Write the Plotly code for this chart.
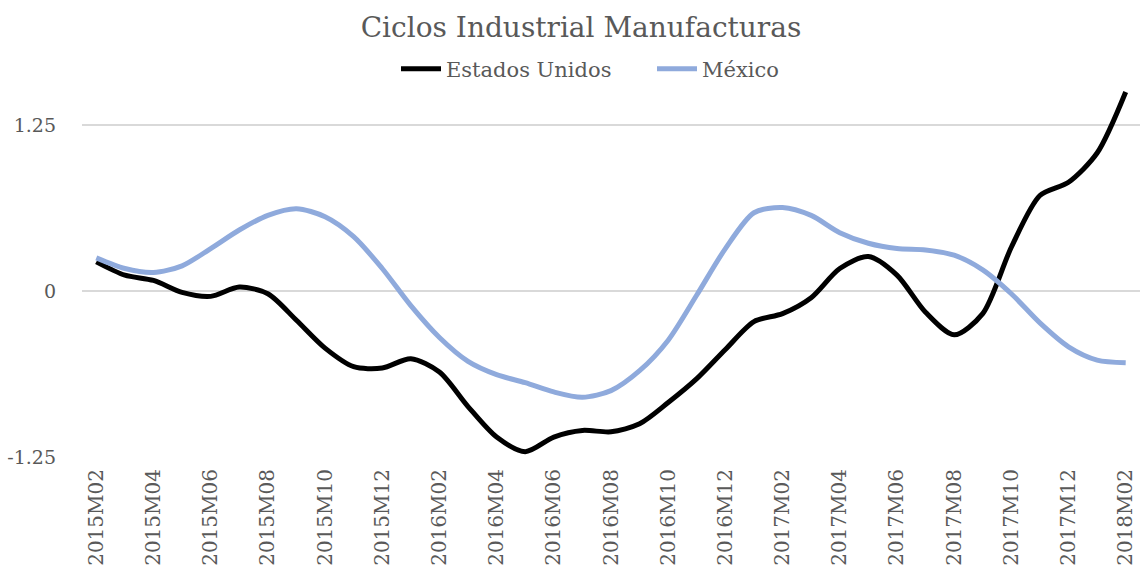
import plotly.graph_objects as go

months = [
    "2015M02", "2015M03", "2015M04", "2015M05", "2015M06", "2015M07", "2015M08",
    "2015M09", "2015M10", "2015M11", "2015M12", "2016M01", "2016M02", "2016M03",
    "2016M04", "2016M05", "2016M06", "2016M07", "2016M08", "2016M09", "2016M10",
    "2016M11", "2016M12", "2017M01", "2017M02", "2017M03", "2017M04", "2017M05",
    "2017M06", "2017M07", "2017M08", "2017M09", "2017M10", "2017M11", "2017M12",
    "2018M01", "2018M02",
]

estados_unidos = [
    0.22, 0.12, 0.08, -0.01, -0.04, 0.03, -0.02, -0.22, -0.43, -0.57, -0.58,
    -0.51, -0.61, -0.87, -1.10, -1.21, -1.10, -1.05, -1.06, -1.00, -0.84,
    -0.66, -0.44, -0.23, -0.17, -0.05, 0.17, 0.26, 0.12, -0.16, -0.33,
    -0.17, 0.33, 0.72, 0.82, 1.04, 1.50,
]

mexico = [
    0.25, 0.17, 0.14, 0.19, 0.32, 0.46, 0.57, 0.62, 0.56, 0.41, 0.17,
    -0.11, -0.35, -0.53, -0.63, -0.69, -0.76, -0.80, -0.75, -0.60, -0.37,
    -0.03, 0.32, 0.59, 0.63, 0.57, 0.44, 0.36, 0.32, 0.31, 0.27,
    0.16, -0.02, -0.24, -0.42, -0.52, -0.54,
]

y_ticks = [-1.25, 0, 1.25]
y_ticktext = ["-1.25", "0", "1.25"]

FONT = "DejaVu Serif"
GRAY = "#595959"

W, H = 1143, 569
ML, MR, MT, MB = 82, 3, 80, 112
plot_w = W - ML - MR
plot_h = H - MT - MB

fig = go.Figure()
fig.add_trace(go.Scatter(
    x=months, y=estados_unidos, mode="lines", name="Estados Unidos",
    line=dict(color="#000000", width=5, shape="spline", smoothing=0.8),
))
fig.add_trace(go.Scatter(
    x=months, y=mexico, mode="lines", name="México",
    line=dict(color="#8FAADC", width=5, shape="spline", smoothing=0.8),
))

fig.update_layout(
    width=W, height=H,
    margin=dict(l=ML, r=MR, t=MT, b=MB, autoexpand=False),
    paper_bgcolor="white", plot_bgcolor="white",
    font=dict(family=FONT, color=GRAY, size=20),
    title=dict(text="Ciclos Industrial Manufacturas", x=581 / W, xanchor="center",
               y=1 - 27 / H, yanchor="middle",
               font=dict(family=FONT, size=28, color=GRAY)),
    legend=dict(orientation="h", x=(396 - ML) / plot_w, xanchor="left",
                y=1 + (MT - 69) / plot_h, yanchor="middle",
                font=dict(family=FONT, size=21, color=GRAY),
                bgcolor="rgba(0,0,0,0)", itemwidth=40,
                entrywidth=201, entrywidthmode="pixels"),
    showlegend=True,
)
fig.update_xaxes(
    type="category", range=[-0.5, 36.5], dtick=2, tickangle=-90,
    showgrid=False, showline=False, zeroline=False, ticks="",
    automargin=False, ticklabelstandoff=7,
    tickfont=dict(family=FONT, size=20, color=GRAY),
)
fig.update_yaxes(
    range=[-1.25, 1.59], tickvals=y_ticks, ticktext=y_ticktext,
    showgrid=True, gridcolor="#D9D9D9", gridwidth=1.5, zeroline=False,
    showline=False, ticks="", ticklabelstandoff=25, automargin=False,
    tickfont=dict(family=FONT, size=19, color=GRAY),
)

fig.write_html("out.html", config={"displayModeBar": False},
               post_script="document.body.style.margin='0';")
